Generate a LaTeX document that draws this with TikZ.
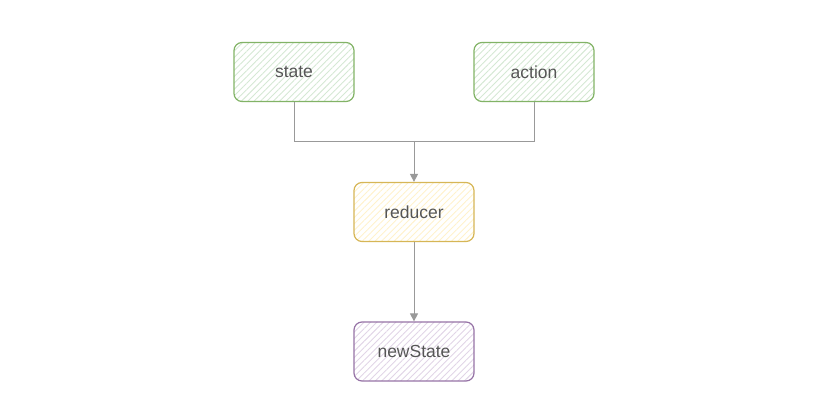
\documentclass[tikz,border=0pt]{standalone}
\usepackage{fontspec}
\setmainfont{Liberation Sans}
\usetikzlibrary{patterns.meta,arrows.meta}
\definecolor{gstroke}{HTML}{82B366}
\definecolor{gfill}{HTML}{D5E8D4}
\definecolor{ystroke}{HTML}{D6B656}
\definecolor{yfill}{HTML}{FFF2CC}
\definecolor{pstroke}{HTML}{9673A6}
\definecolor{pfill}{HTML}{E1D5E7}
\definecolor{txt}{HTML}{555555}
\definecolor{conn}{HTML}{999999}
\tikzset{
  boxbase/.style={minimum width=120pt, minimum height=59pt, rounded corners=8pt,
    line width=1.2pt, inner sep=0pt, text=txt, font=\fontsize{17.5}{19}\selectfont},
  greenbox/.style={boxbase, draw=gstroke, pattern={Lines[angle=45,distance=4.5pt,line width=0.9pt]}, pattern color=gfill},
  yellowbox/.style={boxbase, draw=ystroke, pattern={Lines[angle=45,distance=4.5pt,line width=0.9pt]}, pattern color=yfill},
  purplebox/.style={boxbase, draw=pstroke, pattern={Lines[angle=45,distance=4.5pt,line width=0.9pt]}, pattern color=pfill},
  connector/.style={draw=conn, line width=0.9pt},
  arrowconn/.style={connector, -{Triangle[length=8pt,width=8pt]}}
}
\begin{document}
\begin{tikzpicture}[x=1pt,y=-1pt]
\useasboundingbox (0,0) rectangle (838,419);
\node[greenbox] (state) at (294,72) {state};
\node[greenbox] (action) at (534,72) {action};
\node[yellowbox] (reducer) at (414,212) {reducer};
\node[purplebox] (newstate) at (414,351.5) {newState};
\coordinate (join) at (414,141);
\draw[connector] (state.south) |- (join);
\draw[connector] (action.south) |- (join);
\draw[arrowconn] (join) -- (reducer.north);
\draw[arrowconn] (reducer.south) -- (newstate.north);
\end{tikzpicture}
\end{document}
